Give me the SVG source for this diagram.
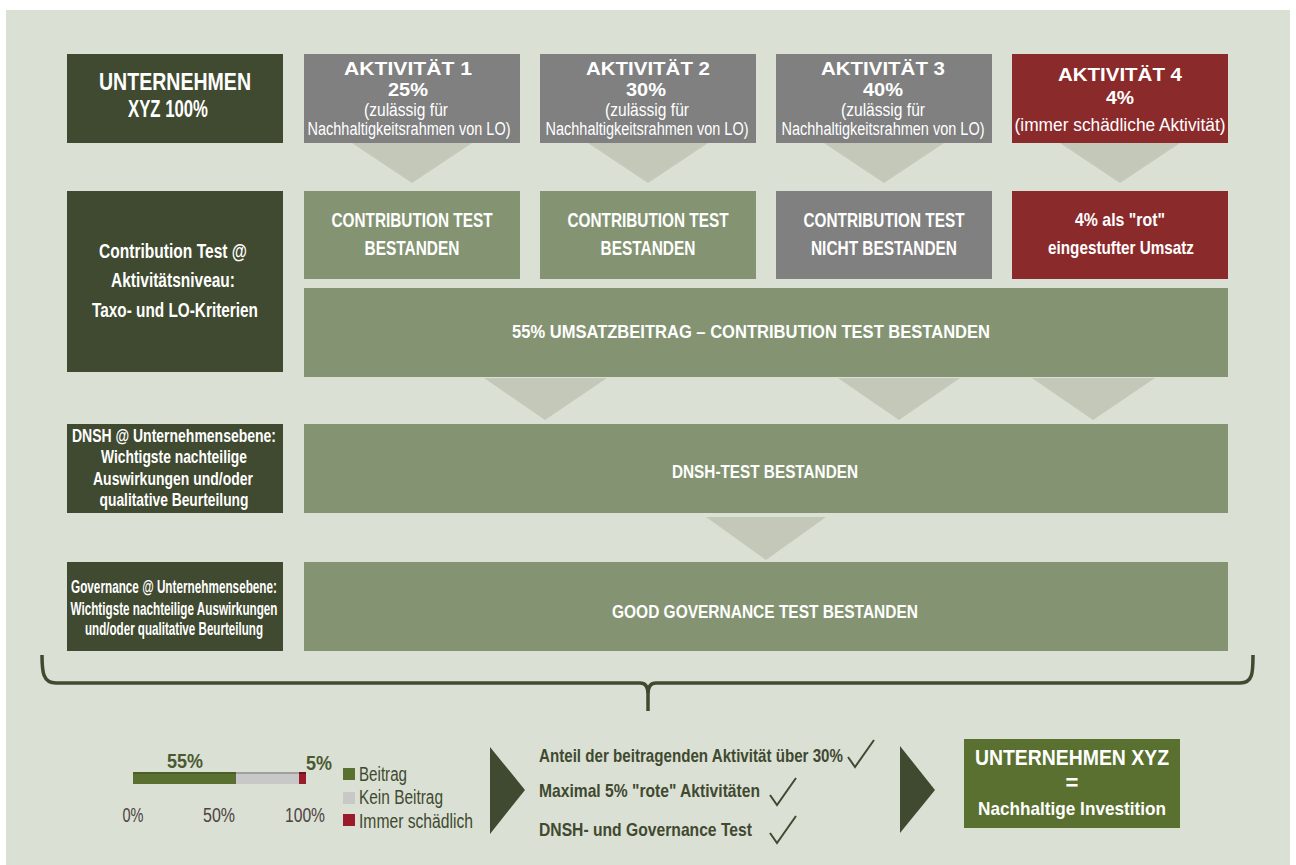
<svg xmlns="http://www.w3.org/2000/svg" width="1296" height="865" viewBox="0 0 1296 865">
  <style>
    .t { font-family: "Liberation Sans Narrow", "Liberation Sans", Arial, sans-serif; text-anchor: middle; }
    .s { text-anchor: start; }
    .w { fill: #ffffff; }
    .b { font-weight: bold; }
    .dk { fill: #3f4a30; }
    .dark { fill: #3f4a30; }
    .gray { fill: #808080; }
    .red { fill: #8b2a2b; }
    .lg { fill: #849472; }
    .arrow { fill: #c4c8b8; }
    .ax { fill: #4d4340; font-size: 20px; }
    .lgd { fill: #3f4a30; font-size: 20px; text-anchor: start; }
    .chk { fill: none; stroke: #3f4a30; stroke-width: 2; stroke-linejoin: miter; }
  </style>

  <!-- panel background -->
  <rect x="6" y="10" width="1284" height="855" fill="#dbe0d5"/>

  <!-- connectors: chevrons between stages, summary brace -->
  <g id="connectors">
    <polygon class="arrow" points="352,143 472,143 412,183"/>
    <polygon class="arrow" points="588,143 708,143 648,183"/>
    <polygon class="arrow" points="824,143 944,143 884,183"/>
    <polygon class="arrow" points="1060,143 1180,143 1120,183"/>
    <polygon class="arrow" points="484,378 607,378 545,420"/>
    <polygon class="arrow" points="838,378 960,378 899,420"/>
    <polygon class="arrow" points="1032,378 1155,378 1093,420"/>
    <polygon class="arrow" points="706,517 826,517 766,560"/>
    <path d="M42,655 C42,672 43,683 56,683 L640,683 Q648,683 648,694 L648,711 M648,694 Q648,683 656,683 L1240,683 C1253,683 1253,672 1253,655" fill="none" stroke="#3f4a30" stroke-width="3.5"/>
  </g>

  <!-- row 1: company and activities -->
  <g id="company">
    <rect class="dark" x="67" y="54" width="216" height="89"/>
    <text class="t w b" x="175" y="90" font-size="23" textLength="152" lengthAdjust="spacingAndGlyphs">UNTERNEHMEN</text>
    <text class="t w b" x="168" y="117" font-size="23" textLength="80" lengthAdjust="spacingAndGlyphs">XYZ 100%</text>
  </g>

  <g id="activity-1">
    <rect class="gray" x="304" y="54" width="216" height="89"/>
    <text class="t w b" x="408" y="75" font-size="19" textLength="128" lengthAdjust="spacingAndGlyphs">AKTIVITÄT  1</text>
    <text class="t w b" x="408" y="96" font-size="19" textLength="40" lengthAdjust="spacingAndGlyphs">25%</text>
    <text class="t w" x="406" y="116" font-size="18" textLength="84" lengthAdjust="spacingAndGlyphs">(zulässig für</text>
    <text class="t w" x="409" y="135" font-size="18" textLength="203" lengthAdjust="spacingAndGlyphs">Nachhaltigkeitsrahmen von LO)</text>
  </g>

  <g id="activity-2">
    <rect class="gray" x="540" y="54" width="216" height="89"/>
    <text class="t w b" x="648" y="75" font-size="19" textLength="124" lengthAdjust="spacingAndGlyphs">AKTIVITÄT  2</text>
    <text class="t w b" x="646" y="96" font-size="19" textLength="40" lengthAdjust="spacingAndGlyphs">30%</text>
    <text class="t w" x="647" y="116" font-size="18" textLength="84" lengthAdjust="spacingAndGlyphs">(zulässig für</text>
    <text class="t w" x="647" y="135" font-size="18" textLength="203" lengthAdjust="spacingAndGlyphs">Nachhaltigkeitsrahmen von LO)</text>
  </g>

  <g id="activity-3">
    <rect class="gray" x="776" y="54" width="216" height="89"/>
    <text class="t w b" x="883" y="75" font-size="19" textLength="124" lengthAdjust="spacingAndGlyphs">AKTIVITÄT  3</text>
    <text class="t w b" x="883" y="96" font-size="19" textLength="40" lengthAdjust="spacingAndGlyphs">40%</text>
    <text class="t w" x="883" y="116" font-size="18" textLength="84" lengthAdjust="spacingAndGlyphs">(zulässig für</text>
    <text class="t w" x="883" y="135" font-size="18" textLength="203" lengthAdjust="spacingAndGlyphs">Nachhaltigkeitsrahmen von LO)</text>
  </g>

  <g id="activity-4">
    <rect class="red" x="1012" y="54" width="216" height="89"/>
    <text class="t w b" x="1120" y="81" font-size="19" textLength="124" lengthAdjust="spacingAndGlyphs">AKTIVITÄT  4</text>
    <text class="t w b" x="1120" y="104" font-size="19" textLength="28" lengthAdjust="spacingAndGlyphs">4%</text>
    <text class="t w" x="1120" y="131" font-size="18" textLength="211" lengthAdjust="spacingAndGlyphs">(immer schädliche Aktivität)</text>
  </g>

  <!-- row 2: contribution test -->
  <g id="contribution-label">
    <rect class="dark" x="67" y="191" width="216" height="181"/>
    <text class="t w b" x="173" y="258" font-size="20" textLength="148" lengthAdjust="spacingAndGlyphs">Contribution Test @</text>
    <text class="t w b" x="173" y="287" font-size="20" textLength="124" lengthAdjust="spacingAndGlyphs">Aktivitätsniveau:</text>
    <text class="t w b" x="175" y="317" font-size="20" textLength="166" lengthAdjust="spacingAndGlyphs">Taxo- und LO-Kriterien</text>
  </g>

  <g id="test-1">
    <rect class="lg" x="304" y="191" width="216" height="88"/>
    <text class="t w b" x="412" y="227" font-size="21" textLength="161" lengthAdjust="spacingAndGlyphs">CONTRIBUTION TEST</text>
    <text class="t w b" x="412" y="255" font-size="21" textLength="95" lengthAdjust="spacingAndGlyphs">BESTANDEN</text>
  </g>

  <g id="test-2">
    <rect class="lg" x="540" y="191" width="216" height="88"/>
    <text class="t w b" x="648" y="227" font-size="21" textLength="161" lengthAdjust="spacingAndGlyphs">CONTRIBUTION TEST</text>
    <text class="t w b" x="648" y="255" font-size="21" textLength="95" lengthAdjust="spacingAndGlyphs">BESTANDEN</text>
  </g>

  <g id="test-3">
    <rect class="gray" x="776" y="191" width="216" height="88"/>
    <text class="t w b" x="884" y="227" font-size="21" textLength="161" lengthAdjust="spacingAndGlyphs">CONTRIBUTION TEST</text>
    <text class="t w b" x="884" y="255" font-size="21" textLength="146" lengthAdjust="spacingAndGlyphs">NICHT BESTANDEN</text>
  </g>

  <g id="test-4">
    <rect class="red" x="1012" y="191" width="216" height="88"/>
    <text class="t w b" x="1120" y="226" font-size="19" textLength="90" lengthAdjust="spacingAndGlyphs">4% als "rot"</text>
    <text class="t w b" x="1121" y="254" font-size="19" textLength="146" lengthAdjust="spacingAndGlyphs">eingestufter Umsatz</text>
  </g>

  <g id="contribution-result">
    <rect class="lg" x="304" y="288" width="924" height="89"/>
    <text class="t w b" x="751" y="338" font-size="19" textLength="478" lengthAdjust="spacingAndGlyphs">55% UMSATZBEITRAG – CONTRIBUTION TEST BESTANDEN</text>
  </g>

  <!-- row 3: DNSH -->
  <g id="dnsh-label">
    <rect class="dark" x="67" y="424" width="216" height="89"/>
    <text class="t w b" x="174" y="442" font-size="19" textLength="204" lengthAdjust="spacingAndGlyphs">DNSH @ Unternehmensebene:</text>
    <text class="t w b" x="174" y="463" font-size="19" textLength="146" lengthAdjust="spacingAndGlyphs">Wichtigste nachteilige</text>
    <text class="t w b" x="173" y="485" font-size="19" textLength="160" lengthAdjust="spacingAndGlyphs">Auswirkungen und/oder</text>
    <text class="t w b" x="174" y="506" font-size="19" textLength="149" lengthAdjust="spacingAndGlyphs">qualitative Beurteilung</text>
  </g>

  <g id="dnsh-result">
    <rect class="lg" x="304" y="424" width="924" height="89"/>
    <text class="t w b" x="765" y="478" font-size="19" textLength="186" lengthAdjust="spacingAndGlyphs">DNSH-TEST BESTANDEN</text>
  </g>

  <!-- row 4: governance -->
  <g id="governance-label">
    <rect class="dark" x="67" y="562" width="216" height="89"/>
    <text class="t w b" x="174" y="593" font-size="18" textLength="206" lengthAdjust="spacingAndGlyphs">Governance @ Unternehmensebene:</text>
    <text class="t w b" x="174" y="615" font-size="18" textLength="207" lengthAdjust="spacingAndGlyphs">Wichtigste nachteilige Auswirkungen</text>
    <text class="t w b" x="174" y="635" font-size="18" textLength="178" lengthAdjust="spacingAndGlyphs">und/oder qualitative Beurteilung</text>
  </g>

  <g id="governance-result">
    <rect class="lg" x="304" y="562" width="924" height="89"/>
    <text class="t w b" x="765" y="618" font-size="19" textLength="306" lengthAdjust="spacingAndGlyphs">GOOD GOVERNANCE TEST BESTANDEN</text>
  </g>

  <!-- revenue split chart -->
  <g id="revenue-chart">
    <rect x="133" y="772" width="103" height="12" fill="#5a7030"/>
    <rect x="133" y="772" width="103" height="2" fill="#4a5e28"/>
    <rect x="236" y="772" width="63" height="12" fill="#c8c8c8"/>
    <rect x="236" y="772" width="63" height="2" fill="#a0a0a0"/>
    <rect x="299" y="772" width="7" height="12" fill="#9a1b2a"/>
    <rect x="299" y="772" width="7" height="2" fill="#6e1420"/>
    <text class="t b" x="185" y="768" font-size="21" fill="#4a5a30" textLength="36" lengthAdjust="spacingAndGlyphs">55%</text>
    <text class="t b" x="319" y="770" font-size="21" fill="#4a5a30" textLength="26" lengthAdjust="spacingAndGlyphs">5%</text>
    <text class="t ax" x="133" y="822" textLength="21" lengthAdjust="spacingAndGlyphs">0%</text>
    <text class="t ax" x="219" y="822" textLength="32" lengthAdjust="spacingAndGlyphs">50%</text>
    <text class="t ax" x="305" y="822" textLength="40" lengthAdjust="spacingAndGlyphs">100%</text>
    <rect x="343" y="768" width="12" height="12" fill="#5a7030"/>
    <rect x="343" y="792" width="12" height="12" fill="#c8c8c8"/>
    <rect x="343" y="814" width="12" height="12" fill="#9a1b2a"/>
    <text class="t lgd" x="359" y="781" textLength="48" lengthAdjust="spacingAndGlyphs">Beitrag</text>
    <text class="t lgd" x="359" y="804" textLength="84" lengthAdjust="spacingAndGlyphs">Kein Beitrag</text>
    <text class="t lgd" x="359" y="828" textLength="114" lengthAdjust="spacingAndGlyphs">Immer schädlich</text>
  </g>

  <!-- criteria checklist -->
  <g id="criteria">
    <polygon class="dk" points="490,747 525,790 490,834"/>
    <text class="t s b dk" x="539" y="762" font-size="19" textLength="304" lengthAdjust="spacingAndGlyphs">Anteil der beitragenden Aktivität über 30%</text>
    <text class="t s b dk" x="539" y="797" font-size="19" textLength="221" lengthAdjust="spacingAndGlyphs">Maximal 5% "rote" Aktivitäten</text>
    <text class="t s b dk" x="539" y="836" font-size="19" textLength="213" lengthAdjust="spacingAndGlyphs">DNSH- und Governance Test</text>
    <polyline class="chk" points="848,757 855,767 874,740"/>
    <polyline class="chk" points="770,795 777,805 796,778"/>
    <polyline class="chk" points="770,833 777,843 796,816"/>
  </g>

  <!-- outcome -->
  <g id="outcome">
    <polygon class="dk" points="900,746 935,790 900,833"/>
    <rect x="964" y="739" width="216" height="89" fill="#5a7030"/>
    <text class="t w b" x="1072" y="765" font-size="22" textLength="194" lengthAdjust="spacingAndGlyphs">UNTERNEHMEN XYZ</text>
    <text class="t w b" x="1072" y="790" font-size="22">=</text>
    <text class="t w b" x="1072" y="815" font-size="19" textLength="188" lengthAdjust="spacingAndGlyphs">Nachhaltige Investition</text>
  </g>
</svg>
